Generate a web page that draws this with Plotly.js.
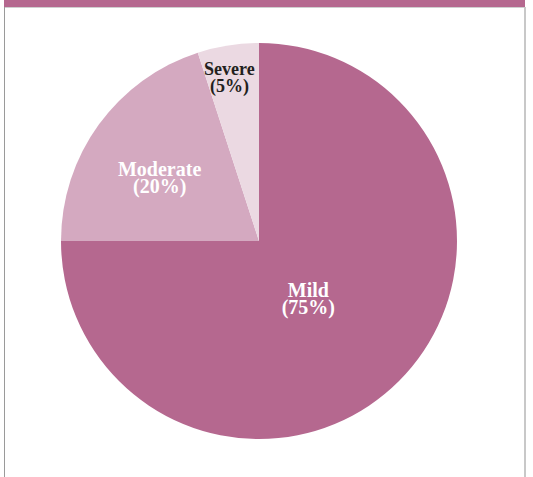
<!DOCTYPE html>
<html>
<head>
<meta charset="utf-8">
<script src="https://cdn.plot.ly/plotly-3.0.1.min.js"></script>
<style>
  html, body { margin: 0; padding: 0; background: #fff; }
  #wrap { position: relative; width: 533px; height: 477px; overflow: hidden; }
  #chart { position: absolute; left: 0; top: 0; width: 533px; height: 477px; }
  .deco { position: absolute; pointer-events: none; }
</style>
</head>
<body>
<div id="wrap">
  <div id="chart"></div>
  <div class="deco" style="left:4px; top:0; width:521px; height:7px; background:#b5688f;"></div>
  <div class="deco" style="left:4px; top:7px; width:521px; height:1px; background:#cfcfcf;"></div>
  <div class="deco" style="left:4px; top:7px; width:1px; height:470px; background:#9a9a9a;"></div>
  <div class="deco" style="left:524px; top:7px; width:2px; height:470px; background:#c8c8c8;"></div>
</div>
<script>
const categories = ["Mild", "Moderate", "Severe"];
const values = [75, 20, 5];
const sliceColors = ["#b5688f", "#d4a9c0", "#ebd9e2"];
const textColors = ["#ffffff", "#ffffff", "#231f20"];

// label styling / placement layers (layout only)
const labelSizes = [20, 20, 18];
const labelDomains = [
  { x: [0.1187, 0.8661], y: [0.1111, 0.8585] },
  { x: [0.0151, 0.9697], y: [0.0050, 0.9596] },
  { x: [0.0126, 0.9672], y: [0.0277, 0.9823] }
];

const clear = categories.map(() => "rgba(0,0,0,0)");

const common = {
  type: "pie",
  labels: categories,
  values: values,
  sort: false,
  direction: "clockwise",
  rotation: 0,
  hoverinfo: "none",
  showlegend: false
};

// visible slices
const traces = [Object.assign({}, common, {
  marker: { colors: sliceColors, line: { width: 0 } },
  textinfo: "none",
  domain: { x: [0, 1], y: [0, 1] }
})];

// one transparent label layer per slice
categories.forEach((cat, k) => {
  const span = '<span style="font-size:' + labelSizes[k] + 'px">';
  const tpl = span + "<b>%{label}</b></span><br>" + span + "<b>(%{percent})</b></span>";
  traces.push(Object.assign({}, common, {
    marker: { colors: clear, line: { width: 0 } },
    texttemplate: categories.map((c, i) => i === k ? tpl : ""),
    textposition: "inside",
    insidetextorientation: "horizontal",
    insidetextfont: { family: "Liberation Serif, Times New Roman, serif", size: 13, color: textColors },
    domain: labelDomains[k]
  }));
});

const layout = {
  width: 533,
  height: 477,
  margin: { l: 61, r: 76, t: 43, b: 38 },
  paper_bgcolor: "#ffffff",
  plot_bgcolor: "#ffffff",
  showlegend: false,
  uniformtext: { mode: "show", minsize: 13 }
};

Plotly.newPlot("chart", traces, layout, { displayModeBar: false, staticPlot: true });
</script>
</body>
</html>
